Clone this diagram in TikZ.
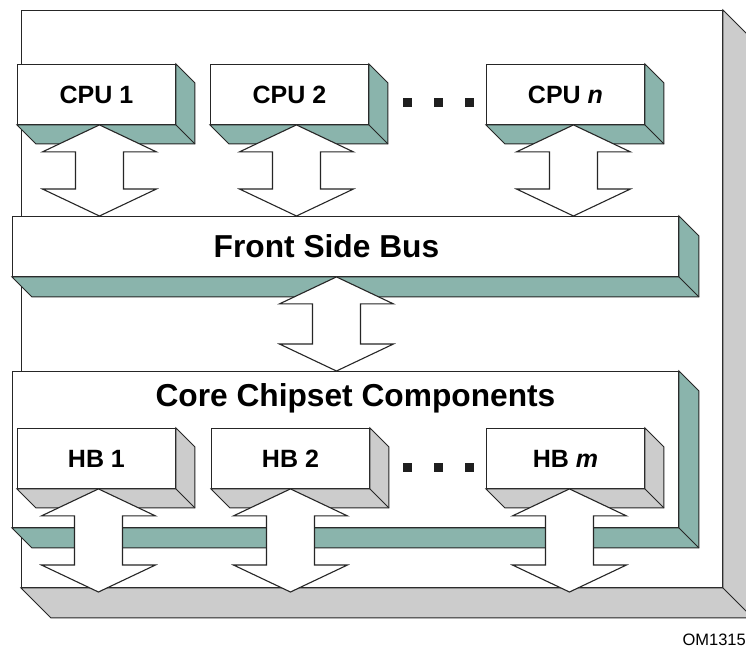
\documentclass[tikz,border=0pt]{standalone}
\usepackage{fontspec}
\setmainfont{Liberation Sans}
\usetikzlibrary{calc}

\definecolor{slabteal}{HTML}{8AB4AC}
\definecolor{slabgray}{HTML}{CCCCCC}

% right and lower faces of a box
\newcommand\slab[3]{%
    \draw[face, fill = #3] (#1.north east) -- ++(#2,#2) -- ($(#1.south east)+(#2,#2)$)
        -- ($(#1.south west)+(#2,#2)$) -- (#1.south west) -- (#1.south east) -- cycle;
    \draw[face] (#1.south east) -- ++(#2,#2);
}

% two-headed block arrow, vertical
\newcommand\busarrow[2]{%
    \draw[face, line width = 1.1pt, fill = white] let \p1 = #1, \p2 = #2 in
        (\x1,\y1) -- (\x1+57pt,\y1-27pt) -- (\x1+24pt,\y1-27pt) -- (\x1+24pt,\y2+27pt)
        -- (\x1+57pt,\y2+27pt) -- (\x1,\y2) -- (\x1-57pt,\y2+27pt) -- (\x1-24pt,\y2+27pt)
        -- (\x1-24pt,\y1-27pt) -- (\x1-57pt,\y1-27pt) -- cycle;
}

\begin{document}
\begin{tikzpicture}[x = 1pt, y = -1pt]
    \tikzset{
        face/.style = {
            draw = black!85,
            line width = 0.9pt
        },
        box/.style = {
            face,
            fill = white,
            rectangle,
            inner sep = 0pt,
            anchor = north west
        },
        unit/.style = {
            box,
            minimum width = 158pt,
            minimum height = 60pt,
            font = \bfseries\fontsize{25}{30}\selectfont
        },
        title/.style = {
            font = \bfseries\fontsize{31.7}{38}\selectfont,
            inner sep = 0pt
        },
        dot/.style = {
            rectangle,
            fill = black!88,
            inner sep = 0pt,
            minimum size = 9pt
        }
    }

    \path[use as bounding box, clip] (0,0) rectangle (746,647);

    % enclosure
    \node[box, minimum width = 701pt, minimum height = 577pt] (outer) at (21,10) {};
    \slab{outer}{30}{slabgray}

    % processors
    \foreach \k/\x/\t in {1/17/1, 2/210/2, n/486/\textit{n}}{
        \node[unit] (cpu\k) at (\x,64) {CPU \t};
        \slab{cpu\k}{19}{slabteal}
    }

    % front side bus
    \node[box, minimum width = 666pt, minimum height = 60pt] (fsb) at (12,216) {};
    \slab{fsb}{20}{slabteal}
    \node[title] (fsbtitle) at ($(fsb.center)+(-19,0)$) {Front Side Bus};

    % chipset
    \node[box, minimum width = 666pt, minimum height = 156pt] (core) at (12,371) {};
    \slab{core}{20}{slabteal}
    \node[title] (coretitle) at ($(core.north)+(10,27)$) {Core Chipset Components};

    \foreach \k/\x/\t in {1/17/1, 2/211/2, m/486/\textit{m}}{
        \node[unit] (hb\k) at (\x,428) {HB \t};
        \slab{hb\k}{19}{slabgray}
    }

    \foreach \x [count = \i] in {407.5, 438.5, 469.5}{
        \node[dot] (cdot\i) at (\x,102.5) {};
        \node[dot] (hdot\i) at (\x,467) {};
    }

    % arrows
    \foreach \k/\dx in {1/3, 2/7, n/8}{
        \busarrow{([xshift = \dx]cpu\k.south)}{(fsb.north)}
    }
    \busarrow{([xshift = -9]fsb.south)}{(core.north)}

    \coordinate (busend) at (0,592);
    \foreach \k/\dx in {1/2, 2/0, m/4}{
        \busarrow{([xshift = \dx]hb\k.south)}{(busend)}
    }

    \node[font = \fontsize{16.5}{20}\selectfont, anchor = base east, inner sep = 0pt] (figid) at (746,645) {OM1315};

\end{tikzpicture}
\end{document}
